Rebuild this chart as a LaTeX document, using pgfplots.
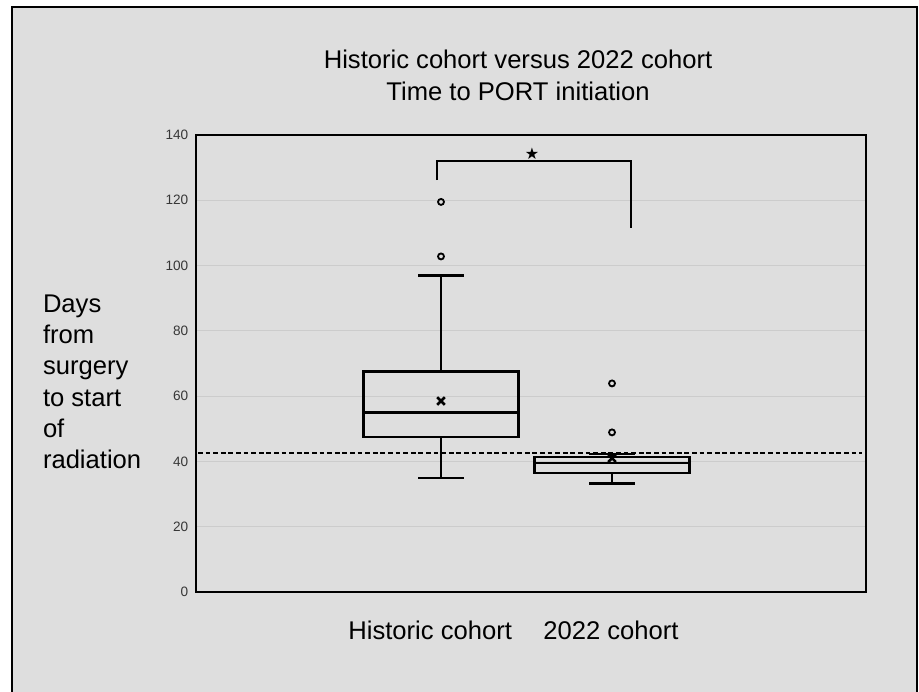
\documentclass[border=0pt]{standalone}
\usepackage{pgfplots}
\pgfplotsset{compat=1.18}
\usepgfplotslibrary{statistics}
\usepackage{fontspec}
\setmainfont{Liberation Sans}
\newfontfamily\symfont{DejaVu Sans}
\definecolor{bg}{RGB}{222,222,222}
\definecolor{gridc}{RGB}{204,204,204}
\definecolor{tickc}{RGB}{55,55,55}
\begin{document}
\begin{tikzpicture}
\useasboundingbox (0,0) rectangle (459.5pt,345.5pt);
\fill[white] (0,0) rectangle (459.5pt,345.5pt);
\filldraw[fill=bg, draw=black, line width=0.8pt] (6pt,-2pt) rectangle (458.5pt,342pt);
\begin{axis}[
  at={(98pt,49.5pt)}, anchor=south west,
  scale only axis, width=335pt, height=228.5pt,
  xmin=0, xmax=670, ymin=0, ymax=140,
  ytick={0,20,...,140}, xtick=\empty,
  major tick length=0pt,
  ymajorgrids, grid style={gridc, line width=0.6pt},
  axis line style={black, line width=1pt},
  /pgf/number format/assume math mode=true,
  yticklabel style={font=\fontsize{6.8}{8}\selectfont, text=tickc, inner sep=0pt, xshift=-3.7pt},
  clip=false,
  boxplot/draw direction=y,
]
\addplot[black, line width=1pt, dash pattern=on 2.4pt off 1.4pt] coordinates {(2,42.5) (666,42.5)};
\addplot[black, line width=1.2pt, mark=o, mark size=1.5pt, mark options={line width=0.9pt, solid},
  boxplot prepared={draw position=245, median=55, upper quartile=67.6, lower quartile=47.4,
  upper whisker=97, lower whisker=35, box extend=155, whisker extend=46}]
  coordinates {(0,102.8) (0,119.5)};
\addplot[black, line width=1.2pt, mark=o, mark size=1.5pt, mark options={line width=0.9pt, solid},
  boxplot prepared={draw position=416, median=39.5, upper quartile=41.3, lower quartile=36.5,
  upper whisker=42.3, lower whisker=33.2, box extend=155, whisker extend=46}]
  coordinates {(0,48.9) (0,63.9)};
\addplot[only marks, mark=x, mark size=2.7pt, line width=1.3pt, black] coordinates {(245,58.5) (416,41)};
\addplot[black, line width=1.2pt] coordinates {(241,126.2) (241,132) (435,132) (435,111.5)};
\node[font=\symfont\fontsize{8}{9}\selectfont] at (axis cs:336,134.3) {★};
\end{axis}
\node[anchor=base, inner sep=0pt, font=\fontsize{12.8}{15}\selectfont] at (259pt,311pt) {Historic cohort versus 2022 cohort};
\node[anchor=base, inner sep=0pt, font=\fontsize{12.8}{15}\selectfont] at (259pt,295pt) {Time to PORT initiation};
\foreach \t/\y in {Days/189, from/173.5, surgery/158, to start/142.5, of/127, radiation/111.5}
  \node[anchor=base west, inner sep=0pt, font=\fontsize{12.8}{15}\selectfont] at (21.3pt,\y pt) {\t};
\node[anchor=base west, inner sep=0pt, font=\fontsize{12.8}{15}\selectfont] at (174pt,26pt) {Historic cohort};
\node[anchor=base west, inner sep=0pt, font=\fontsize{12.8}{15}\selectfont] at (271.5pt,26pt) {2022 cohort};
\end{tikzpicture}
\end{document}
